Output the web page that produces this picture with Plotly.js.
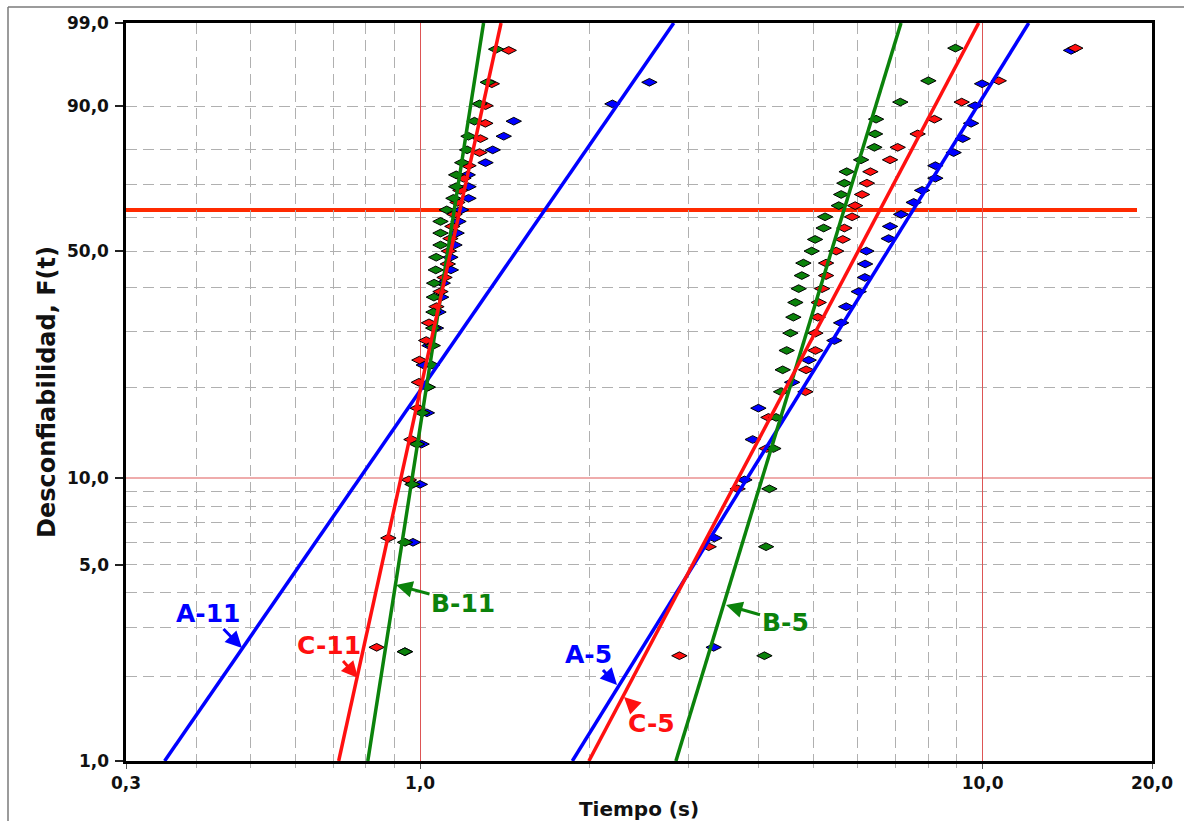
<!DOCTYPE html>
<html>
<head>
<meta charset="utf-8">
<script src="https://cdn.plot.ly/plotly-3.0.1.min.js"></script>
<style>
  html, body { margin: 0; padding: 0; background: #ffffff; }
  #chart { width: 1184px; height: 821px; }
</style>
</head>
<body>
<div id="chart"></div>
<script>
// ---------- DATA ----------
// Median-rank unreliability levels (%) for the three sample sizes used
const ranksN27 = [2.55, 6.20, 9.85, 13.50, 17.15, 20.80, 24.45, 28.10, 31.75, 35.40, 39.05, 42.70, 46.35, 50.00,
                  53.65, 57.30, 60.95, 64.60, 68.25, 71.90, 75.55, 79.20, 82.85, 86.50, 90.15, 93.80, 97.45];
const ranksN28 = [2.46, 5.99, 9.51, 13.03, 16.55, 20.07, 23.59, 27.11, 30.63, 34.15, 37.68, 41.20, 44.72, 48.24,
                  51.76, 55.28, 58.80, 62.32, 65.85, 69.37, 72.89, 76.41, 79.93, 83.45, 86.97, 90.49, 94.01, 97.54];
const ranksN29 = [2.38, 5.78, 9.18, 12.59, 15.99, 19.39, 22.79, 26.19, 29.59, 32.99, 36.39, 39.80, 43.20, 46.60, 50.00,
                  53.40, 56.80, 60.20, 63.61, 67.01, 70.41, 73.81, 77.21, 80.61, 84.01, 87.41, 90.82, 94.22, 97.62];

// Failure times (s) per series
const timesA11 = [0.940, 0.971, 0.999, 1.006, 1.028, 1.030, 1.015, 1.039, 1.067, 1.078, 1.090, 1.097, 1.134, 1.132,
                  1.151, 1.161, 1.170, 1.183, 1.219, 1.219, 1.215, 1.307, 1.346, 1.408, 1.467, 2.197, 2.556];
const timesB11 = [0.939, 0.940, 0.969, 0.987, 1.009, 1.032, 1.050, 1.053, 1.055, 1.056, 1.058, 1.059, 1.066, 1.068,
                  1.087, 1.087, 1.087, 1.115, 1.146, 1.159, 1.159, 1.188, 1.212, 1.219, 1.249, 1.275, 1.319, 1.365];
const timesC11 = [0.837, 0.878, 0.955, 0.965, 0.990, 0.995, 0.997, 1.025, 1.037, 1.069, 1.087, 1.105, 1.120, 1.125,
                  1.132, 1.141, 1.151, 1.165, 1.179, 1.194, 1.219, 1.275, 1.280, 1.306, 1.307, 1.341, 1.437];
const timesA5  = [3.325, 3.335, 3.771, 3.901, 3.993, 4.584, 4.906, 5.450, 5.603, 5.719, 6.020, 6.174, 6.180, 6.213,
                  6.806, 6.845, 7.161, 7.540, 7.804, 8.240, 8.240, 8.880, 9.216, 9.537, 9.694, 9.976, 14.36];
const timesB5  = [4.093, 4.121, 4.177, 4.246, 4.293, 4.382, 4.411, 4.483, 4.552, 4.608, 4.646, 4.709, 4.770, 4.801,
                  4.967, 5.036, 5.216, 5.246, 5.549, 5.603, 5.677, 5.731, 6.080, 6.420, 6.438, 6.464, 7.139, 8.008, 8.943];
const timesC5  = [2.890, 3.258, 3.668, 4.131, 4.160, 4.841, 4.855, 5.043, 5.043, 5.091, 5.111, 5.183, 5.268, 5.268,
                  5.490, 5.640, 5.677, 5.860, 5.933, 6.104, 6.226, 6.316, 6.845, 7.062, 7.663, 8.207, 9.177, 10.68, 14.61];

// Weibull fit parameters (beta = shape, eta = scale in s)
const seriesNames = ['A-11', 'B-11', 'C-11', 'A-5', 'B-5', 'C-5'];
const fitBeta = [2.94, 12.93, 9.22, 3.28, 6.65, 3.84];
const fitEta  = [1.680, 1.152, 1.180, 7.58, 5.69, 6.61];

// Axis ticks
const xTickVals = [0.3, 1, 10, 20];
const xTickText = ['0,3', '1,0', '10,0', '20,0'];
const xMinorVals = [0.4, 0.5, 0.6, 0.7, 0.8, 0.9, 2, 3, 4, 5, 6, 7, 8, 9];
const yTickPct = [1, 5, 10, 50, 90, 99];
const yTickText = ['1,0', '5,0', '10,0', '50,0', '90,0', '99,0'];
const yMinorPct = [2, 3, 4, 5, 6, 7, 8, 9, 20, 30, 40, 50, 60, 70, 80, 90];
const refLinePct = 10;      // thin red reference line
const charLinePct = 62.3;   // thick red characteristic line

// ---------- BUILD ----------
const W = p => Math.log(-Math.log(1 - p / 100));   // Weibull probability scale
const BLUE = '#0000ff', GREEN = '#0b820b', RED = '#ff1010';
const FAMILY = 'DejaVu Sans, Verdana, sans-serif';

function pts(times, ranks, color) {
  return {
    type: 'scatter', mode: 'markers', hoverinfo: 'skip',
    x: times, y: times.map((_, i) => W(ranks[i])),
    marker: { symbol: 'diamond-wide', size: 11, color: color, line: { color: '#000', width: 1 } }
  };
}
function fitLine(k, color) {
  const pLo = 1, pHi = 99;
  const tOf = p => fitEta[k] * Math.pow(-Math.log(1 - p / 100), 1 / fitBeta[k]);
  return {
    type: 'scatter', mode: 'lines', hoverinfo: 'skip', name: seriesNames[k],
    x: [tOf(pLo), tOf(pHi)], y: [W(pLo), W(pHi)],
    line: { color: color, width: 3.5 }
  };
}

const data = [
  pts(timesA11, ranksN28, BLUE), pts(timesA5, ranksN27, BLUE),
  pts(timesC11, ranksN27, RED),  pts(timesC5, ranksN29, RED),
  pts(timesB11, ranksN28, GREEN), pts(timesB5, ranksN29, GREEN),
  fitLine(0, BLUE), fitLine(3, BLUE),
  fitLine(1, GREEN), fitLine(4, GREEN),
  fitLine(2, RED), fitLine(5, RED)
];

// plot area in pixels: x 126..1152, y 23..761
const PX = px => (px - 126) / 1026;
const PY = py => (761 - py) / 738;

function label(text, color, headX, headY, textX, textY) {
  return {
    xref: 'paper', yref: 'paper', x: PX(headX), y: PY(headY),
    ax: textX - headX, ay: textY - headY, axref: 'pixel', ayref: 'pixel',
    text: text, showarrow: true, arrowhead: 2, arrowsize: 1.1, arrowwidth: 3,
    arrowcolor: color, standoff: 0, startstandoff: 0,
    font: { family: FAMILY, size: 25, color: color, weight: 'bold' }
  };
}

const tickFont = { family: FAMILY, size: 17, color: '#111', weight: 'bold' };

// y tick labels (placed a little farther from the axis than Plotly's default)
const yLabels = yTickPct.map((p, i) => ({
  xref: 'paper', yref: 'y', x: PX(111), y: W(p), xanchor: 'right', yanchor: 'middle',
  text: yTickText[i], showarrow: false, font: tickFont
}));

const annotations = [
  label('A-11', BLUE, 242, 648, 208, 613),
  label('C-11', RED, 358, 678, 329, 645),
  label('B-11', GREEN, 396, 585, 463, 603),
  label('A-5', BLUE, 617, 685, 588, 654),
  label('C-5', RED, 624, 697, 651, 723),
  label('B-5', GREEN, 726, 605, 785, 622),
  // y-axis title
  { xref: 'paper', yref: 'paper', x: PX(47), y: 0.5, xanchor: 'center', yanchor: 'middle',
    text: 'Desconfiabilidad, F(t)', textangle: -90, showarrow: false,
    font: { family: FAMILY, size: 24, color: '#111', weight: 'bold' } }
].concat(yLabels);

const shapes = [
  { type: 'line', xref: 'paper', yref: 'y', x0: 0, x1: 1, y0: W(refLinePct), y1: W(refLinePct),
    line: { color: '#e05a5a', width: 1.2 }, layer: 'between' },
  { type: 'line', xref: 'paper', yref: 'y', x0: 0, x1: PX(1137), y0: W(charLinePct), y1: W(charLinePct),
    line: { color: '#ff2a00', width: 4 }, layer: 'between' },
  // outer frame (top and left edges)
  { type: 'line', xref: 'paper', yref: 'paper', x0: PX(8), x1: PX(1184), y0: PY(7), y1: PY(7),
    line: { color: '#7a7a7a', width: 1.5 } },
  { type: 'line', xref: 'paper', yref: 'paper', x0: PX(8), x1: PX(8), y0: PY(7), y1: PY(821),
    line: { color: '#7a7a7a', width: 1.5 } }
];

const xTitleFont = { family: FAMILY, size: 20, color: '#111', weight: 'bold' };

const layout = {
  width: 1184, height: 821,
  margin: { l: 126, r: 32, t: 23, b: 60 },
  paper_bgcolor: '#ffffff', plot_bgcolor: '#ffffff',
  showlegend: false,
  xaxis: {
    type: 'log', range: [Math.log10(0.3), Math.log10(20)],
    tickmode: 'array', tickvals: xTickVals, ticktext: xTickText,
    ticks: 'outside', ticklen: 5, tickwidth: 1, tickcolor: '#555',
    tickfont: tickFont,
    showgrid: true, gridcolor: '#dd5555', gridwidth: 1,
    minor: { tickmode: 'array', tickvals: xMinorVals, showgrid: true, gridcolor: '#b0b0b0',
             griddash: '11px,6px', gridwidth: 1, ticks: 'outside', ticklen: 4, tickcolor: '#b0b0b0' },
    showline: true, linecolor: '#000', linewidth: 3, mirror: true, zeroline: false,
    title: { text: 'Tiempo (s)', font: xTitleFont, standoff: 12 }
  },
  yaxis: {
    range: [W(1), W(99)],
    tickmode: 'array', tickvals: yTickPct.map(W), showticklabels: false,
    ticks: 'outside', ticklen: 8, tickwidth: 2, tickcolor: '#222',
    showgrid: false,
    minor: { tickmode: 'array', tickvals: yMinorPct.map(W), showgrid: true, gridcolor: '#b0b0b0',
             griddash: '11px,6px', gridwidth: 1 },
    showline: true, linecolor: '#000', linewidth: 3, mirror: true, zeroline: false
  },
  annotations: annotations,
  shapes: shapes
};

Plotly.newPlot('chart', data, layout, { staticPlot: true, displayModeBar: false });
</script>
</body>
</html>
